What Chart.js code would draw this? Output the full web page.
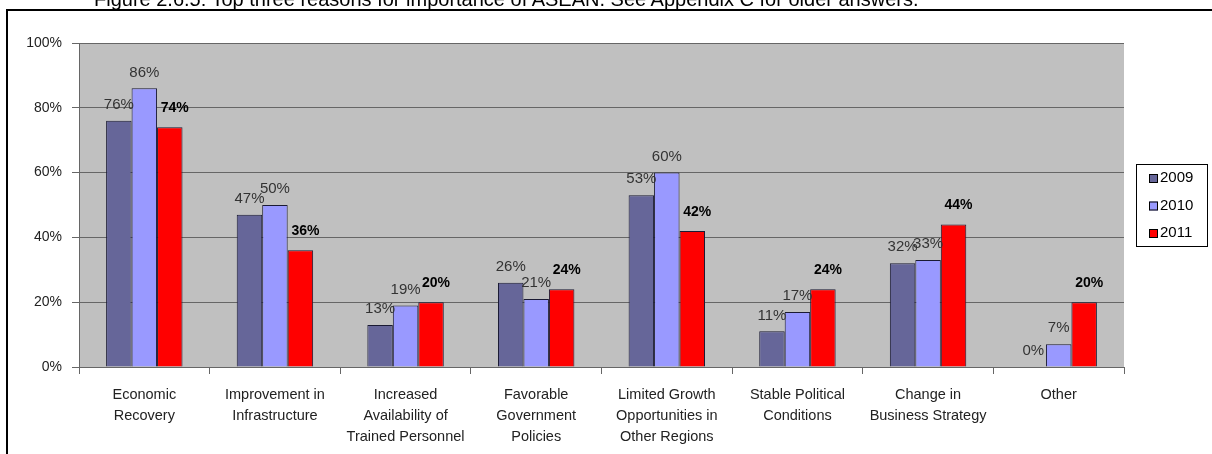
<!DOCTYPE html>
<html>
<head>
<meta charset="utf-8">
<script src="https://cdn.jsdelivr.net/npm/chart.js@4.4.1/dist/chart.umd.min.js"></script>
<style>
  html, body { margin: 0; padding: 0; background: #fff; }
  #wrap { position: relative; width: 1212px; height: 454px; overflow: hidden; }
  #title { position: absolute; z-index: 2; left: 94px; top: -12px; line-height: 18px; font: 20px "Liberation Sans", Arial, sans-serif; color: #000; white-space: nowrap; }
  canvas { position: absolute; left: 0; top: 0; z-index: 1; }
</style>
</head>
<body>
<div id="wrap">
  <div id="title">Figure 2.6.5: Top three reasons for importance of ASEAN. See Appendix C for older answers.</div>
  <canvas id="myChart" width="1212" height="454"></canvas>
</div>
<script>
// categories (multi-line labels)
let categories = [
    ['Economic', 'Recovery'],
    ['Improvement in', 'Infrastructure'],
    ['Increased', 'Availability of', 'Trained Personnel'],
    ['Favorable', 'Government', 'Policies'],
    ['Limited Growth', 'Opportunities in', 'Other Regions'],
    ['Stable Political', 'Conditions'],
    ['Change in', 'Business Strategy'],
    ['Other']
];

let years = ['2009', '2010', '2011'];

let val2009 = [76, 47, 13, 26, 53, 11, 32, 0];
let val2010 = [86, 50, 19, 21, 60, 17, 33, 7];
let val2011 = [74, 36, 20, 24, 42, 24, 44, 20];

let yTicks = [0, 20, 40, 60, 80, 100];

let colores = ['#666699', '#9999FF', '#FF0000'];

const FONT = '"Liberation Sans", Arial, sans-serif';

// frame + background
const fondo = {
    id: 'fondo',
    beforeDraw(chart) {
        let ctx = chart.ctx;
        ctx.save();
        ctx.fillStyle = '#fff';
        ctx.fillRect(0, 0, chart.width, chart.height);
        ctx.strokeStyle = '#000';
        ctx.lineWidth = 2;
        ctx.beginPath();
        ctx.moveTo(7, 470);
        ctx.lineTo(7, 10);
        ctx.lineTo(1220, 10);
        ctx.stroke();
        let a = chart.chartArea;
        ctx.fillStyle = '#C0C0C0';
        ctx.fillRect(a.left, a.top, a.right - a.left, a.bottom - a.top);
        ctx.restore();
    }
};

// value labels over bars
const etiquetas = {
    id: 'etiquetas',
    afterDatasetsDraw(chart) {
        let ctx = chart.ctx;
        ctx.save();
        ctx.textAlign = 'center';
        ctx.textBaseline = 'middle';
        chart.data.datasets.forEach((ds, i) => {
            let meta = chart.getDatasetMeta(i);
            meta.data.forEach((bar, j) => {
                if (i == 2) {
                    ctx.font = 'bold 14px ' + FONT;
                    ctx.fillStyle = '#000';
                    ctx.fillText(ds.data[j] + '%', bar.x + 5, bar.y - 19);
                } else {
                    ctx.font = '15px ' + FONT;
                    ctx.fillStyle = '#333';
                    ctx.fillText(ds.data[j] + '%', bar.x, bar.y - 16);
                }
            });
        });
        ctx.restore();
    }
};

// legend box
const leyenda = {
    id: 'leyenda',
    afterDraw(chart) {
        let ctx = chart.ctx;
        ctx.save();
        ctx.fillStyle = '#fff';
        ctx.fillRect(1136, 164, 71, 82);
        ctx.strokeStyle = '#000';
        ctx.lineWidth = 1;
        ctx.strokeRect(1136.5, 164.5, 71, 82);
        ctx.font = '15px ' + FONT;
        ctx.textBaseline = 'middle';
        ctx.textAlign = 'left';
        years.forEach((y, i) => {
            let cy = 178 + i * 27.5;
            ctx.fillStyle = colores[i];
            ctx.fillRect(1149, cy - 4, 9, 9);
            ctx.strokeStyle = '#000';
            ctx.strokeRect(1149.5, cy - 3.5, 8, 8);
            ctx.fillStyle = '#000';
            ctx.fillText(y, 1160, cy);
        });
        ctx.restore();
    }
};

let grafico = new Chart('myChart', {
    type: 'bar',
    data: {
        labels: categories,
        datasets: [{
            label: years[0],
            data: val2009,
            backgroundColor: colores[0],
            borderColor: '#1a1a33',
            borderWidth: 1
        }, {
            label: years[1],
            data: val2010,
            backgroundColor: colores[1],
            borderColor: '#1a1a33',
            borderWidth: 1
        }, {
            label: years[2],
            data: val2011,
            backgroundColor: colores[2],
            borderColor: '#1a1a33',
            borderWidth: 1
        }]
    },
    options: {
        responsive: false,
        animation: false,
        layout: { padding: { left: 0, top: 43, right: 88, bottom: 0 } },
        plugins: {
            legend: { display: false },
            tooltip: { enabled: false }
        },
        datasets: {
            bar: { barPercentage: 1, categoryPercentage: 0.585 }
        },
        scales: {
            x: {
                grid: {
                    offset: true,
                    drawOnChartArea: false,
                    drawTicks: true,
                    tickLength: 7,
                    color: '#666'
                },
                border: { color: '#666', width: 1 },
                ticks: {
                    color: '#222',
                    font: { family: FONT, size: 14.5, lineHeight: 1.45 },
                    padding: 10,
                    maxRotation: 0,
                    autoSkip: false
                },
                afterFit(scale) { scale.height = 87; }
            },
            y: {
                min: 0,
                max: 100,
                afterBuildTicks(scale) {
                    scale.ticks = yTicks.map(v => ({ value: v }));
                },
                grid: {
                    color: '#666',
                    tickLength: 7,
                    lineWidth: 1
                },
                border: { color: '#666', width: 1 },
                ticks: {
                    color: '#222',
                    font: { family: FONT, size: 14 },
                    padding: 10,
                    callback: v => v + '%'
                },
                afterFit(scale) { scale.width = 79; }
            }
        }
    },
    plugins: [fondo, etiquetas, leyenda]
});
</script>
</body>
</html>
